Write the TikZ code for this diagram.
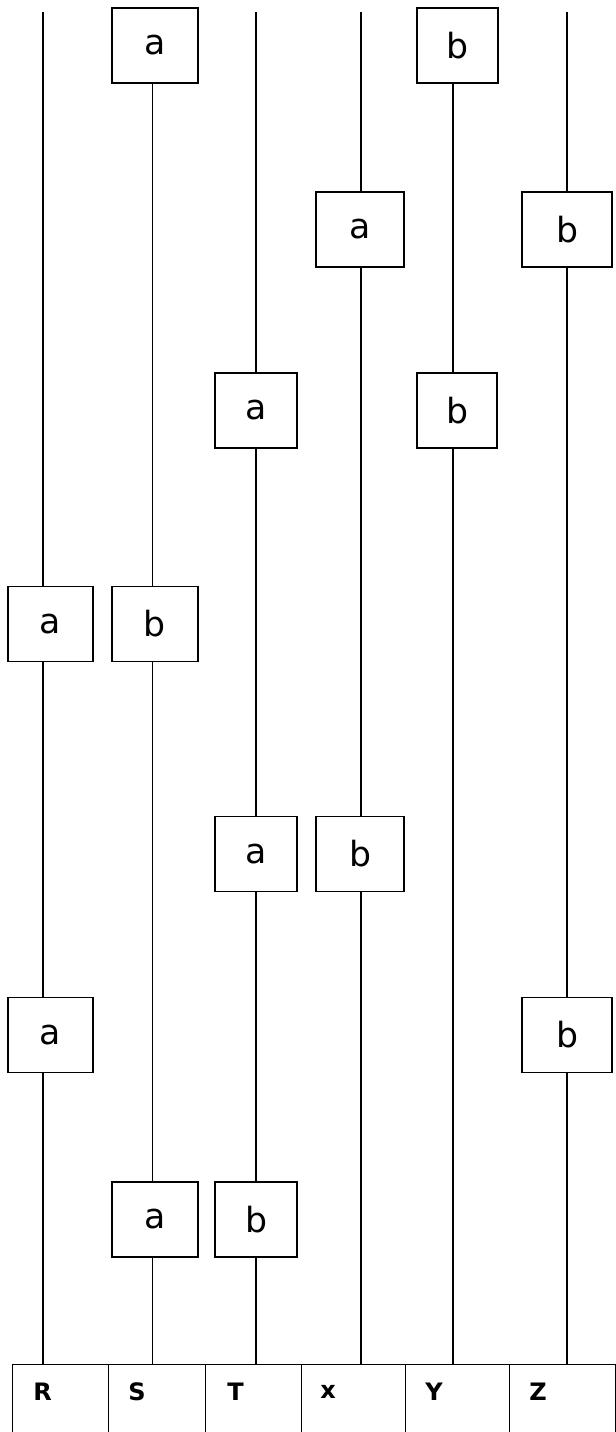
\documentclass[tikz,border=0pt]{standalone}
\usepackage{fontspec}
\setmainfont{DejaVu Sans}
\begin{document}
\begin{tikzpicture}[x=0.75pt,y=-0.75pt,
  wire/.style={line width=1.05pt, black},
  lbox/.style={draw, line width=1.1pt, fill=white, inner sep=0pt, minimum height=56.25pt,
     font=\fontsize{26}{30}\selectfont},
  cell/.style={draw, line width=1.05pt, anchor=north west, inner sep=0pt, minimum height=56pt},
  clabel/.style={anchor=west, inner sep=0pt, font=\fontsize{18}{21}\selectfont\bfseries}]
\useasboundingbox (0,0) rectangle (616,1432);
% column top ends
\coordinate (Rt) at (43,12);
\coordinate (St) at (152.5,12);
\coordinate (Tt) at (256,12);
\coordinate (Xt) at (361,12);
\coordinate (Yt) at (453,12);
\coordinate (Zt) at (567,12);
% boxes
\node[lbox, minimum width=64.5pt] (s1) at (155,45.5) {a};
\node[lbox, minimum width=60.75pt] (y1) at (457.5,45.5) {b};
\node[lbox, minimum width=66pt] (x2) at (360,229.5) {a};
\node[lbox, minimum width=67.5pt] (z2) at (567,229.5) {b};
\node[lbox, minimum width=61.5pt] (t3) at (256,410.5) {a};
\node[lbox, minimum width=60pt] (y3) at (457,410.5) {b};
\node[lbox, minimum width=63.75pt] (r4) at (50.5,624) {a};
\node[lbox, minimum width=64.5pt] (s4) at (155,624) {b};
\node[lbox, minimum width=61.5pt] (t5) at (256,854) {a};
\node[lbox, minimum width=66pt] (x5) at (360,854) {b};
\node[lbox, minimum width=63.75pt] (r6) at (50.5,1035) {a};
\node[lbox, minimum width=67.5pt] (z6) at (567,1035) {b};
\node[lbox, minimum width=64.5pt] (s7) at (155,1219.5) {a};
\node[lbox, minimum width=61.5pt] (t7) at (256,1219.5) {b};
% table
\node[cell, minimum width=72pt] (cR) at (12,1364) {};
\node[cell, minimum width=72.75pt] (cS) at (108,1364) {};
\node[cell, minimum width=72pt] (cT) at (205,1364) {};
\node[cell, minimum width=78pt] (cX) at (301,1364) {};
\node[cell, minimum width=78pt] (cY) at (405,1364) {};
\node[cell, minimum width=79.5pt] (cZ) at (509,1364) {};
\node[clabel] (lR) at (33,1392) {R};
\node[clabel] (lS) at (128,1392) {S};
\node[clabel] (lT) at (227,1392) {T};
\node[clabel] (lX) at (320,1392) {x};
\node[clabel] (lY) at (425,1392) {Y};
\node[clabel] (lZ) at (529,1392) {Z};
% bottom ends
\coordinate (Rb) at (Rt |- cR.north);
\coordinate (Sb) at (St |- cS.north);
\coordinate (Tb) at (Tt |- cT.north);
\coordinate (Xb) at (Xt |- cX.north);
\coordinate (Yb) at (Yt |- cY.north);
\coordinate (Zb) at (Zt |- cZ.north);
% wires
\draw[wire] (Rt) -- (Rt |- r4.north) (Rt |- r4.south) -- (Rt |- r6.north) (Rt |- r6.south) -- (Rb);
\draw[wire] (St |- s1.south) -- (St |- s4.north) (St |- s4.south) -- (St |- s7.north) (St |- s7.south) -- (Sb);
\draw[wire] (Tt) -- (Tt |- t3.north) (Tt |- t3.south) -- (Tt |- t5.north) (Tt |- t5.south) -- (Tt |- t7.north) (Tt |- t7.south) -- (Tb);
\draw[wire] (Xt) -- (Xt |- x2.north) (Xt |- x2.south) -- (Xt |- x5.north) (Xt |- x5.south) -- (Xb);
\draw[wire] (Yt |- y1.south) -- (Yt |- y3.north) (Yt |- y3.south) -- (Yb);
\draw[wire] (Zt) -- (Zt |- z2.north) (Zt |- z2.south) -- (Zt |- z6.north) (Zt |- z6.south) -- (Zb);
\end{tikzpicture}
\end{document}
